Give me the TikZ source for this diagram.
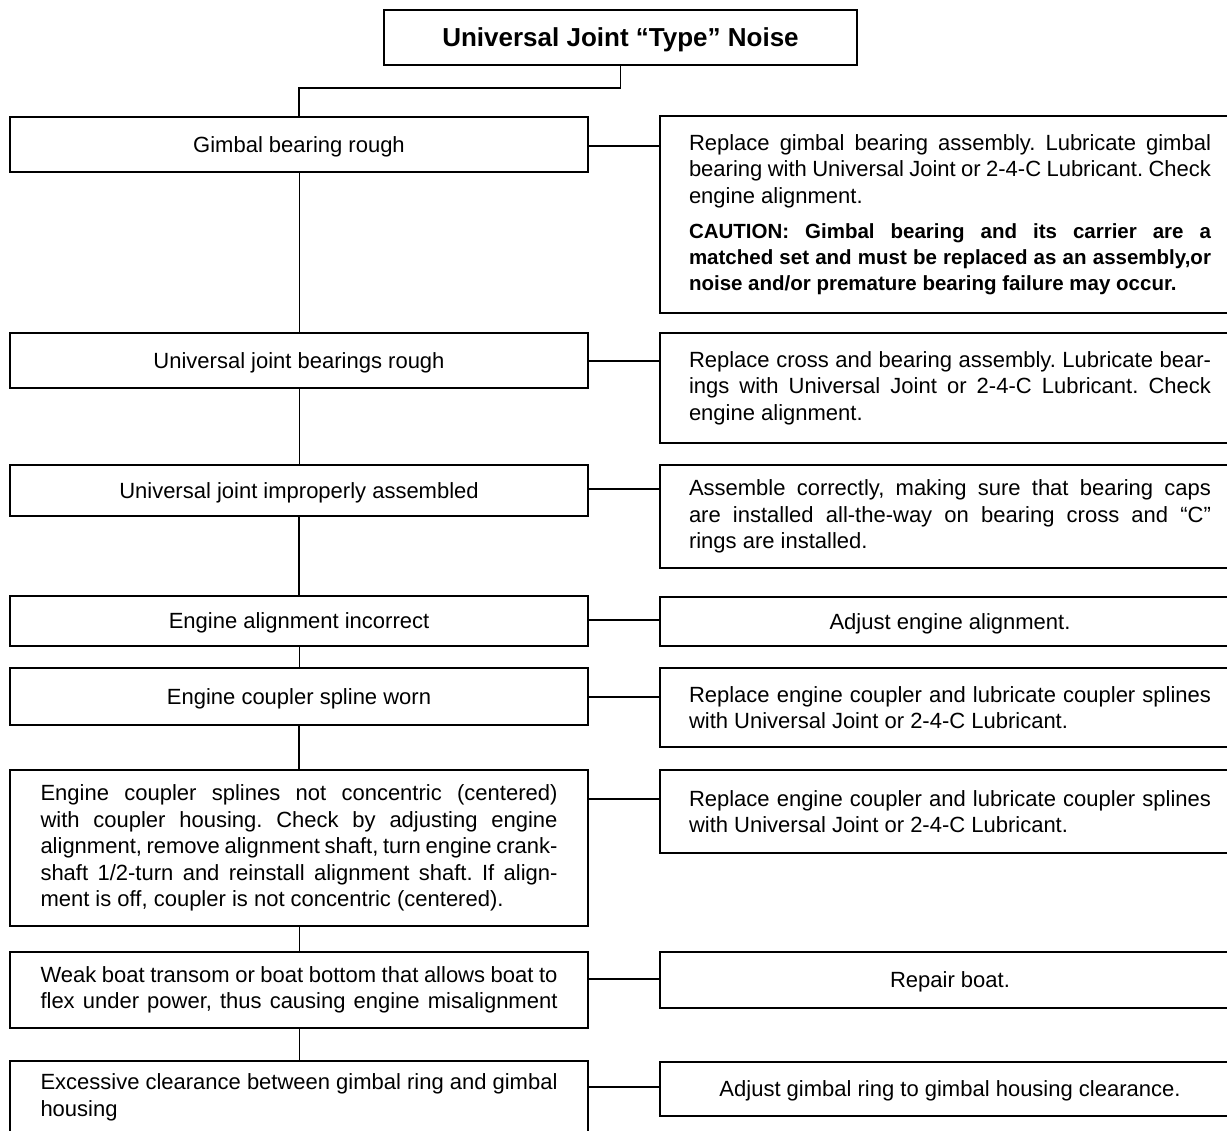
\documentclass[tikz,border=0pt]{standalone}
\usepackage{fontspec}
\setmainfont{Liberation Sans}
\usetikzlibrary{calc}
\frenchspacing
\newcommand{\bodyfont}{\frenchspacing\fontsize{22pt}{26.5pt}\selectfont}
\newcommand{\cautionfont}{\bfseries\fontsize{20.5pt}{26pt}\selectfont}
\tikzset{
  box/.style={draw, line width=1.8pt, inner sep=0pt, font=\bodyfont},
  lbox/.style={box, minimum width=578pt},
  rbox/.style={box, minimum width=580pt},
  oneline/.style={text depth=0pt},
  conn/.style={line width=1.5pt},
  thinconn/.style={line width=0.9pt},
}
\begin{document}
\begin{tikzpicture}[x=1pt,y=-1pt]
\useasboundingbox (0,0) rectangle (1227,1131);
\clip (0,0) rectangle (1227,1131);

% title
\node[box, oneline, minimum width=473pt, minimum height=55pt, font=\bfseries\fontsize{26pt}{30pt}\selectfont] (t) at (620.5,37.5) {Universal Joint “Type” Noise};

% left column
\node[lbox, oneline, minimum height=55pt] (l1) at (299,144.5) {Gimbal bearing rough};
\node[lbox, oneline, minimum height=55pt] (l2) at (299,360.5) {Universal joint bearings rough};
\node[lbox, oneline, minimum height=51pt] (l3) at (299,490.5) {Universal joint improperly assembled};
\node[lbox, oneline, minimum height=50pt] (l4) at (299,621) {Engine alignment incorrect};
\node[lbox, oneline, minimum height=57pt] (l5) at (299,696.5) {Engine coupler spline worn};
\node[lbox, minimum height=156pt] (l6) at (299,848) {\parbox{517pt}{\bodyfont
Engine coupler splines not concentric (centered)\linebreak
with coupler housing. Check by adjusting engine\linebreak
alignment, remove alignment shaft, turn engine crank-\linebreak
shaft 1/2-turn and reinstall alignment shaft. If align-\linebreak
ment is off, coupler is not concentric (centered).}};
\node[lbox, minimum height=76pt] (l7) at (299,990) {\parbox{517pt}{\bodyfont\parfillskip=0pt
Weak boat transom or boat bottom that allows boat to\linebreak
flex under power, thus causing engine misalignment\par}};
\node[lbox, minimum height=73pt] (l8) at (299,1097.5) {\parbox{517pt}{\bodyfont
Excessive clearance between gimbal ring and gimbal\linebreak
housing}};

% right column
\node[rbox, minimum height=197pt] (r1) at (950,214.5) {\parbox{522pt}{\bodyfont
Replace gimbal bearing assembly. Lubricate gimbal\linebreak
bearing with Universal Joint or 2-4-C Lubricant. Check\linebreak
engine alignment.\par\vspace{9pt}
{\cautionfont CAUTION: Gimbal bearing and its carrier are a\linebreak
matched set and must be replaced as an assembly,or\linebreak
noise and/or premature bearing failure may occur.\par}}};
\node[rbox, minimum height=110pt] (r2) at (950,388) {\parbox{522pt}{\bodyfont
Replace cross and bearing assembly. Lubricate bear-\linebreak
ings with Universal Joint or 2-4-C Lubricant. Check\linebreak
engine alignment.}};
\node[rbox, minimum height=103pt] (r3) at (950,516.5) {\parbox{522pt}{\bodyfont
Assemble correctly, making sure that bearing caps\linebreak
are installed all-the-way on bearing cross and “C”\linebreak
rings are installed.}};
\node[rbox, oneline, minimum height=49pt] (r4) at (950,621.5) {Adjust engine alignment.};
\node[rbox, minimum height=79pt] (r5) at (950,707.5) {\parbox{522pt}{\bodyfont
Replace engine coupler and lubricate coupler splines\linebreak
with Universal Joint or 2-4-C Lubricant.}};
\node[rbox, minimum height=83pt] (r6) at (950,811.5) {\parbox{522pt}{\bodyfont
Replace engine coupler and lubricate coupler splines\linebreak
with Universal Joint or 2-4-C Lubricant.}};
\node[rbox, oneline, minimum height=56pt] (r7) at (950,980) {Repair boat.};
\node[rbox, oneline, minimum height=54pt] (r8) at (950,1089) {Adjust gimbal ring to gimbal housing clearance.};

% title connector
\coordinate (tj) at (620.5,88);
\draw[conn] (t.south) -- (tj) -| (l1.north);

% vertical connectors
\draw[thinconn] (l1.south) -- (l2.north);
\draw[thinconn] (l2.south) -- (l3.north);
\draw[conn] (l3.south) -- (l4.north);
\draw[thinconn] (l4.south) -- (l5.north);
\draw[conn] (l5.south) -- (l6.north);
\draw[thinconn] (l6.south) -- (l7.north);
\draw[thinconn] (l7.south) -- (l8.north);

% horizontal connectors
\coordinate (h1) at ([yshift=-30pt]l1.north east);
\coordinate (h2) at ([yshift=-29pt]l2.north east);
\coordinate (h3) at ([yshift=-25pt]l3.north east);
\coordinate (h4) at ([yshift=-25pt]l4.north east);
\coordinate (h5) at ([yshift=-30pt]l5.north east);
\coordinate (h6) at ([yshift=-30pt]l6.north east);
\coordinate (h7) at ([yshift=-28pt]l7.north east);
\coordinate (h8) at ([yshift=-27pt]l8.north east);
\draw[conn] (h1) -- (h1 -| r1.west);
\draw[conn] (h2) -- (h2 -| r2.west);
\draw[conn] (h3) -- (h3 -| r3.west);
\draw[conn] (h4) -- (h4 -| r4.west);
\draw[conn] (h5) -- (h5 -| r5.west);
\draw[conn] (h6) -- (h6 -| r6.west);
\draw[conn] (h7) -- (h7 -| r7.west);
\draw[conn] (h8) -- (h8 -| r8.west);
\end{tikzpicture}
\end{document}
